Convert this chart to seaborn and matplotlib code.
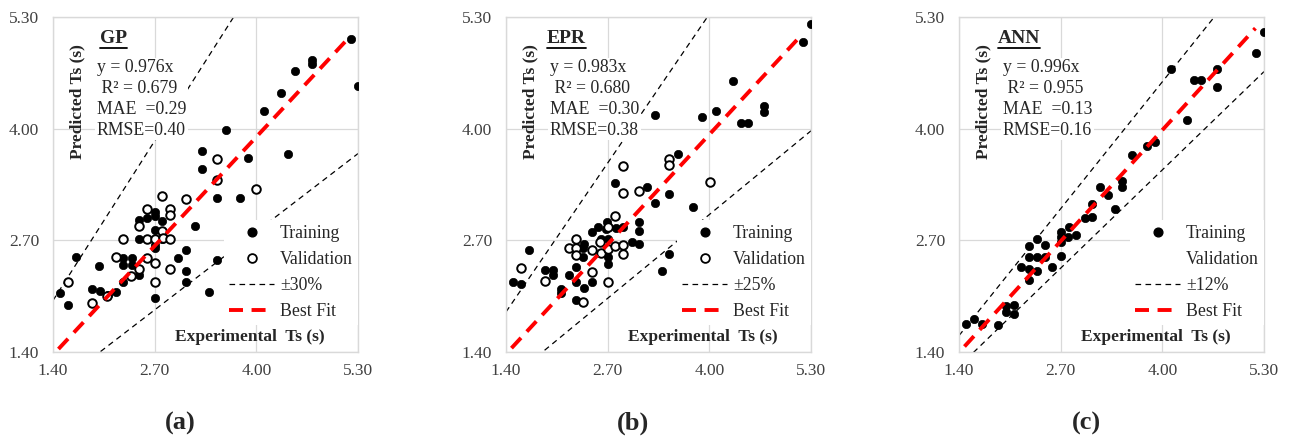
'''
Predicted vs experimental Ts for GP, EPR and ANN models
three scatter panels with +/- band lines and best fit line
'''
import numpy as np
import seaborn as sns
import matplotlib.pyplot as plt
from matplotlib.lines import Line2D


ticks = [1.40, 2.70, 4.00, 5.30]
tick_labels = ['1.40', '2.70', '4.00', '5.30']
fit_range = [1.47, 5.19]

# GP
gp_train_x = [1.49, 1.59, 1.70, 1.90, 2.00, 1.99, 2.10, 2.21, 2.30, 2.30, 2.41, 2.30, 2.41, 2.50, 2.50, 2.50,
              2.60, 2.70, 2.70, 2.80, 2.70, 2.80, 2.70, 2.70, 2.70, 3.00, 3.10, 3.10, 3.10, 3.21, 3.30, 3.30,
              3.50, 3.79, 3.89, 3.61, 3.40, 3.50, 4.10, 4.31, 4.41, 4.49, 4.71, 4.71, 5.21, 5.30]
gp_train_y = [2.09, 1.95, 2.51, 2.13, 2.11, 2.40, 2.06, 2.10, 2.22, 2.49, 2.49, 2.41, 2.41, 2.30, 2.72, 2.94,
              2.96, 3.03, 2.98, 2.92, 2.82, 2.72, 2.65, 2.61, 2.03, 2.49, 2.59, 2.34, 2.22, 2.87, 3.74, 3.53,
              3.19, 3.19, 3.66, 3.99, 2.10, 2.47, 4.20, 4.41, 3.71, 4.67, 4.80, 4.75, 5.04, 4.50]
gp_val_x = [1.59, 1.90, 2.09, 2.20, 2.30, 2.40, 2.50, 2.50, 2.60, 2.60, 2.60, 2.70, 2.70, 2.70, 2.80, 2.80,
            2.81, 2.90, 2.90, 2.90, 2.90, 3.10, 3.50, 3.50, 4.00]
gp_val_y = [2.22, 1.97, 2.05, 2.51, 2.72, 2.29, 2.37, 2.87, 3.07, 2.71, 2.49, 2.72, 2.44, 2.22, 3.22, 2.81,
            2.73, 3.07, 2.99, 2.72, 2.37, 3.18, 3.65, 3.40, 3.30]

# EPR
epr_train_x = [1.49, 1.59, 1.69, 1.90, 2.00, 2.00, 2.10, 2.10, 2.20, 2.30, 2.30, 2.30, 2.39, 2.39, 2.40, 2.40,
               2.50, 2.50, 2.58, 2.61, 2.68, 2.69, 2.70, 2.70, 2.70, 2.81, 2.90, 3.01, 3.10, 3.10, 3.10, 2.79,
               3.20, 3.30, 3.49, 3.39, 3.49, 3.60, 3.79, 3.31, 3.91, 4.09, 4.30, 4.40, 4.50, 4.70, 4.70, 5.20,
               5.30]
epr_train_y = [2.21, 2.19, 2.59, 2.35, 2.35, 2.30, 2.13, 2.09, 2.30, 2.39, 2.22, 2.01, 2.51, 2.61, 2.66, 2.14,
               2.22, 2.80, 2.85, 2.71, 2.83, 2.91, 2.71, 2.51, 2.43, 2.84, 2.85, 2.68, 2.91, 2.81, 2.66, 3.37,
               3.32, 3.14, 3.24, 2.34, 2.54, 3.71, 3.09, 4.16, 4.13, 4.20, 4.56, 4.07, 4.07, 4.26, 4.19, 5.01,
               5.22]
epr_val_x = [1.59, 1.90, 2.20, 2.30, 2.30, 2.30, 2.39, 2.50, 2.50, 2.60, 2.61, 2.70, 2.70, 2.70, 2.79, 2.79,
             2.90, 2.90, 2.90, 2.90, 3.10, 3.49, 3.49, 4.01]
epr_val_y = [2.38, 2.23, 2.61, 2.71, 2.61, 2.53, 1.98, 2.59, 2.33, 2.68, 2.55, 2.86, 2.60, 2.22, 2.98, 2.63,
             2.64, 2.54, 3.25, 3.56, 3.27, 3.65, 3.58, 3.38]

# ANN
ann_train_x = [1.49, 1.59, 1.69, 1.90, 2.00, 2.00, 2.10, 2.10, 2.19, 2.30, 2.30, 2.30, 2.30, 2.40, 2.40, 2.40,
               2.50, 2.50, 2.59, 2.70, 2.70, 2.70, 2.70, 2.79, 2.81, 2.90, 3.01, 3.10, 3.10, 3.20, 3.30, 3.39,
               3.49, 3.49, 3.61, 3.80, 3.91, 4.11, 4.31, 4.40, 4.49, 4.70, 4.70, 5.20, 5.30]
ann_train_y = [1.73, 1.78, 1.73, 1.72, 1.94, 1.87, 1.95, 1.84, 2.39, 2.63, 2.51, 2.37, 2.24, 2.72, 2.51, 2.34,
               2.65, 2.51, 2.39, 2.80, 2.74, 2.68, 2.52, 2.74, 2.86, 2.76, 2.96, 2.97, 3.12, 3.32, 3.23, 3.06,
               3.39, 3.32, 3.69, 3.80, 3.85, 4.69, 4.10, 4.57, 4.57, 4.70, 4.48, 4.88, 5.13]
ann_val_x = []
ann_val_y = []

models = ['GP', 'EPR', 'ANN']
slopes = [0.976, 0.983, 0.996]
r2 = ['0.679', '0.680', '0.955']
mae = ['0.29', '0.30', '0.13']
rmse = ['0.40', '0.38', '0.16']
bands = [0.30, 0.25, 0.12]
letters = ['(a)', '(b)', '(c)']


sns.set_style('white')
plt.rcParams['font.family'] = ['Liberation Serif', 'DejaVu Serif']

W, H = 1293, 443
fig = plt.figure(figsize=(W / 100, H / 100), dpi=100)
lefts = [53, 506, 959]

red_dash = (3.6, 2.2)
black_dash = (4.5, 3.5)


def panel(ax, i, tx, ty, vx, vy):
    ax.set_xlim(1.4, 5.3)
    ax.set_ylim(1.4, 5.3)
    ax.set_xticks(ticks)
    ax.set_yticks(ticks)
    ax.set_xticklabels(tick_labels)
    ax.set_yticklabels(tick_labels)
    ax.grid(True, color='#d9d9d9', lw=0.9)
    ax.set_axisbelow(True)
    for s in ax.spines.values():
        s.set_color('#d9d9d9')
        s.set_linewidth(1.0)
    ax.tick_params(length=0, labelsize=12.5, colors='#404040')
    ax.tick_params(axis='y', pad=10)
    ax.tick_params(axis='x', pad=8)

    b = bands[i]
    xs = np.array([1.4, 5.3])
    l1, = ax.plot(xs, xs / (1 - b), color='black', lw=0.9, zorder=2)
    l2, = ax.plot(xs, xs * (1 - b), color='black', lw=0.9, zorder=2)
    l1.set_dashes(black_dash)
    l2.set_dashes(black_dash)

    sns.scatterplot(x=tx, y=ty, color='black', s=36, edgecolor='black', linewidth=0.5, ax=ax, zorder=3)
    if len(vx):
        sns.scatterplot(x=vx, y=vy, facecolor='white', edgecolor='black', s=38, linewidth=1.4,
                        ax=ax, zorder=3)

    fx = np.array(fit_range)
    fl, = ax.plot(fx, slopes[i] * fx, color='red', lw=2.8, zorder=4)
    fl.set_dashes(red_dash)

    # title + stats
    t = ax.text(0.197, 0.937, models[i], transform=ax.transAxes, ha='center', va='center',
                fontsize=14, weight='bold', zorder=6)
    txt = 'y = %.3fx\n R² = %s\nMAE  =%s\nRMSE=%s' % (slopes[i], r2[i], mae[i], rmse[i])
    ax.text(0.144, 0.755, txt, transform=ax.transAxes, ha='left', va='center', fontsize=12.8,
            linespacing=1.3, zorder=5, bbox=dict(fc='white', ec='none', pad=1))

    ax.text(0.079, 0.749, 'Predicted Ts (s)', transform=ax.transAxes, rotation=90, ha='center',
            va='center', fontsize=12.5, weight='bold', zorder=5)
    ax.text(0.646, 0.045, 'Experimental  Ts (s)', transform=ax.transAxes, ha='center', va='center',
            fontsize=12.5, weight='bold', zorder=5)

    # legend
    if len(vx):
        vh = Line2D([], [], marker='o', ls='none', mfc='white', mec='black', mew=1.3, markersize=6.3,
                    label='Validation')
    else:
        vh = Line2D([], [], marker='none', ls='none', label='Validation')
    h_band = Line2D([], [], color='black', lw=0.9, label='±%d%%' % round(b * 100))
    h_band.set_dashes(black_dash)
    h_fit = Line2D([], [], color='red', lw=2.8, label='Best Fit')
    h_fit.set_dashes(red_dash)
    handles = [Line2D([], [], marker='o', ls='none', color='black', markersize=6.3, label='Training'),
               vh, h_band, h_fit]
    leg = ax.legend(handles=handles, loc='upper left', bbox_to_anchor=(0.561, 0.394), frameon=True,
                    facecolor='white', edgecolor='none', framealpha=1, fancybox=False, fontsize=12.8,
                    handlelength=2.5, handletextpad=0.35, labelspacing=0.5, borderaxespad=0, borderpad=0.3)
    leg.set_zorder(5)

    ax.text(127 / 305, -(423 - 352) / 335, letters[i], transform=ax.transAxes, ha='center', va='center',
            fontsize=19, weight='bold', clip_on=False)
    return t


data = [(gp_train_x, gp_train_y, gp_val_x, gp_val_y),
        (epr_train_x, epr_train_y, epr_val_x, epr_val_y),
        (ann_train_x, ann_train_y, ann_val_x, ann_val_y)]

titles = []
for i, (tx, ty, vx, vy) in enumerate(data):
    ax = fig.add_axes([lefts[i] / W, 1 - 352 / H, 305 / W, 335 / H])
    titles.append(panel(ax, i, tx, ty, vx, vy))

# underline the model names
fig.canvas.draw()
for t in titles:
    bb = t.get_window_extent()
    y0 = bb.y0 - 1
    fig.add_artist(Line2D([bb.x0 / W, bb.x1 / W], [y0 / H, y0 / H], transform=fig.transFigure,
                          color='black', lw=1.3))

fig.savefig('out.png', dpi=100)
